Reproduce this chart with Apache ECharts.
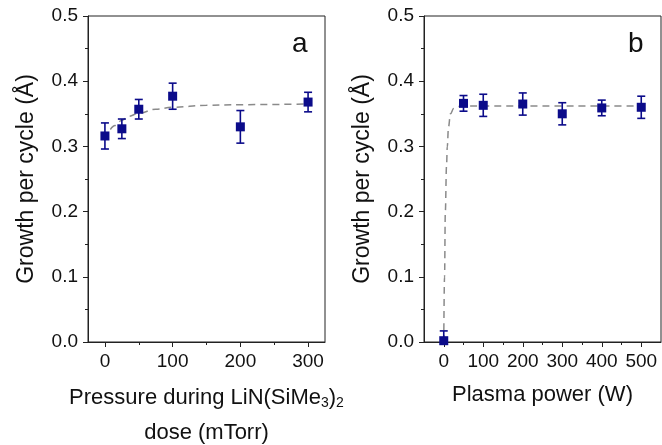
<!DOCTYPE html>
<html>
<head>
<meta charset="utf-8">
<script src="https://cdn.jsdelivr.net/npm/echarts@6/dist/echarts.min.js"></script>
<style>
html, body { margin: 0; padding: 0; background: #fff; }
#chart { width: 662px; height: 445px; }
</style>
</head>
<body>
<div id="chart"></div>
<script>
// panel a: pressure during LiN(SiMe3)2 dose
var pressX = [0, 25, 50, 100, 200, 300];
var pressY = [0.316, 0.327, 0.357, 0.377, 0.330, 0.368];
var pressErr = [0.020, 0.015, 0.015, 0.020, 0.025, 0.015];
var fitAX = [8, 15, 25, 35, 50, 75, 100, 150, 200, 300];
var fitAY = [0.326, 0.332, 0.340, 0.346, 0.351, 0.357, 0.360, 0.363, 0.364, 0.365];

// panel b: plasma power
var powerX = [0, 50, 100, 200, 300, 400, 500];
var powerY = [0.002, 0.366, 0.363, 0.365, 0.350, 0.359, 0.360];
var powerErr = [0.015, 0.012, 0.017, 0.017, 0.017, 0.012, 0.017];
var fitBX = [0, 2, 4, 7, 9, 12, 17, 25, 35, 50, 500];
var fitBY = [0, 0.10, 0.20, 0.27, 0.30, 0.33, 0.35, 0.358, 0.361, 0.362, 0.362];

var pressMajor = [0, 100, 200, 300];
var pressMinor = [50, 150, 250];
var powerMajor = [0, 100, 200, 300, 400, 500];
var powerMinor = [50, 150, 250, 350, 450];

var FONT = '"Liberation Sans", Arial, sans-serif';
var AXC = '#222';
var MARK = '#0b0b8a';

function pairs(xs, ys){
	var out = [];
	for(var i=0; i<xs.length; i++){ out.push([xs[i], ys[i]]); }
	return out;
}
function errData(xs, ys, es){
	var out = [];
	for(var i=0; i<xs.length; i++){ out.push([xs[i], ys[i]-es[i], ys[i]+es[i]]); }
	return out;
}
function renderErr(params, api){
	var x = api.value(0);
	var lo = api.coord([x, api.value(1)]);
	var hi = api.coord([x, api.value(2)]);
	var w = 4;
	var st = { stroke: MARK, lineWidth: 1.6 };
	return {
		type: 'group',
		children: [
			{ type: 'line', shape: { x1: lo[0], y1: lo[1], x2: hi[0], y2: hi[1] }, style: st },
			{ type: 'line', shape: { x1: lo[0]-w, y1: lo[1], x2: lo[0]+w, y2: lo[1] }, style: st },
			{ type: 'line', shape: { x1: hi[0]-w, y1: hi[1], x2: hi[0]+w, y2: hi[1] }, style: st }
		]
	};
}

function mainX(idx, min, max, major, nameObj){
	return Object.assign({
		type: 'value', gridIndex: idx, min: min, max: max, position: 'bottom',
		splitLine: { show: false },
		axisLine: { onZero: false, lineStyle: { color: AXC, width: 1 } },
		axisTick: { customValues: major, length: 5, lineStyle: { color: AXC } },
		axisLabel: { customValues: major, fontSize: 19, fontFamily: FONT, color: '#111', margin: 10 }
	}, nameObj);
}
function minorX(idx, min, max, minor){
	return {
		type: 'value', gridIndex: idx, min: min, max: max, position: 'bottom', offset: 0,
		splitLine: { show: false },
		axisLine: { show: false, onZero: false },
		axisTick: { customValues: minor, length: 3, lineStyle: { color: AXC } },
		axisLabel: { show: false }
	};
}
function yAx(idx){
	return {
		type: 'value', gridIndex: idx, min: 0, max: 0.5, interval: 0.1,
		name: 'Growth per cycle (Å)', nameLocation: 'middle', nameGap: 50,
		nameTextStyle: { fontSize: 23, fontFamily: FONT, color: '#111' },
		splitLine: { show: false },
		axisLine: { show: true, onZero: false, lineStyle: { color: AXC, width: 1 } },
		axisTick: { show: true, length: 5, lineStyle: { color: AXC } },
		minorTick: { show: true, splitNumber: 2, length: 3, lineStyle: { color: AXC } },
		axisLabel: { fontSize: 19, fontFamily: FONT, color: '#111', margin: 10,
			formatter: function(v){ return v.toFixed(1); } }
	};
}

var richName = {
	n: { fontSize: 22, fontFamily: FONT, color: '#111', lineHeight: 35 },
	s: { fontSize: 14, fontFamily: FONT, color: '#111', padding: [12, 0, 0, 0] }
};

var option = {
	animation: false,
	backgroundColor: '#fff',
	grid: [
		{ left: 88, top: 16, width: 237, height: 326, show: true, borderColor: AXC, borderWidth: 1,
		  outerBoundsMode: 'none', containLabel: false },
		{ left: 424, top: 16, width: 237, height: 326, show: true, borderColor: AXC, borderWidth: 1,
		  outerBoundsMode: 'none', containLabel: false }
	],
	xAxis: [
		mainX(0, -25, 325, pressMajor, {
			name: '{n|Pressure during LiN(SiMe}{s|3}{n|)}{s|2}\n{n|dose (mTorr)}',
			nameLocation: 'middle', nameGap: 38,
			nameTextStyle: { rich: richName, align: 'center' }
		}),
		mainX(1, -50, 550, powerMajor, {
			name: 'Plasma power (W)', nameLocation: 'middle', nameGap: 42,
			nameTextStyle: { fontSize: 22, fontFamily: FONT, color: '#111' }
		}),
		minorX(0, -25, 325, pressMinor),
		minorX(1, -50, 550, powerMinor)
	],
	yAxis: [yAx(0), yAx(1)],
	graphic: [
		{ type: 'text', left: 292, top: 30, style: { text: 'a', fontSize: 28, fontFamily: FONT, fill: '#111' } },
		{ type: 'text', left: 628, top: 30, style: { text: 'b', fontSize: 28, fontFamily: FONT, fill: '#111' } }
	],
	series: [
		{ type: 'line', xAxisIndex: 0, yAxisIndex: 0, data: pairs(fitAX, fitAY), showSymbol: false,
		  smooth: 0.4, smoothMonotone: 'x', lineStyle: { color: '#8a8a8a', width: 1.5, type: [7, 5] }, z: 2 },
		{ type: 'line', xAxisIndex: 1, yAxisIndex: 1, data: pairs(fitBX, fitBY), showSymbol: false,
		  smooth: 0.4, smoothMonotone: 'x', lineStyle: { color: '#8a8a8a', width: 1.5, type: [7, 5] }, z: 2 },
		{ type: 'custom', xAxisIndex: 0, yAxisIndex: 0, data: errData(pressX, pressY, pressErr),
		  renderItem: renderErr, clip: true, z: 3 },
		{ type: 'custom', xAxisIndex: 1, yAxisIndex: 1, data: errData(powerX, powerY, powerErr),
		  renderItem: renderErr, clip: true, z: 3 },
		{ type: 'scatter', xAxisIndex: 0, yAxisIndex: 0, data: pairs(pressX, pressY),
		  symbol: 'rect', symbolSize: 9, itemStyle: { color: MARK, opacity: 1 }, z: 4 },
		{ type: 'scatter', xAxisIndex: 1, yAxisIndex: 1, data: pairs(powerX, powerY),
		  symbol: 'rect', symbolSize: 9, itemStyle: { color: MARK, opacity: 1 }, z: 4, clip: true }
	]
};

var myChart = echarts.init(document.getElementById('chart'));
myChart.setOption(option);
</script>
</body>
</html>
